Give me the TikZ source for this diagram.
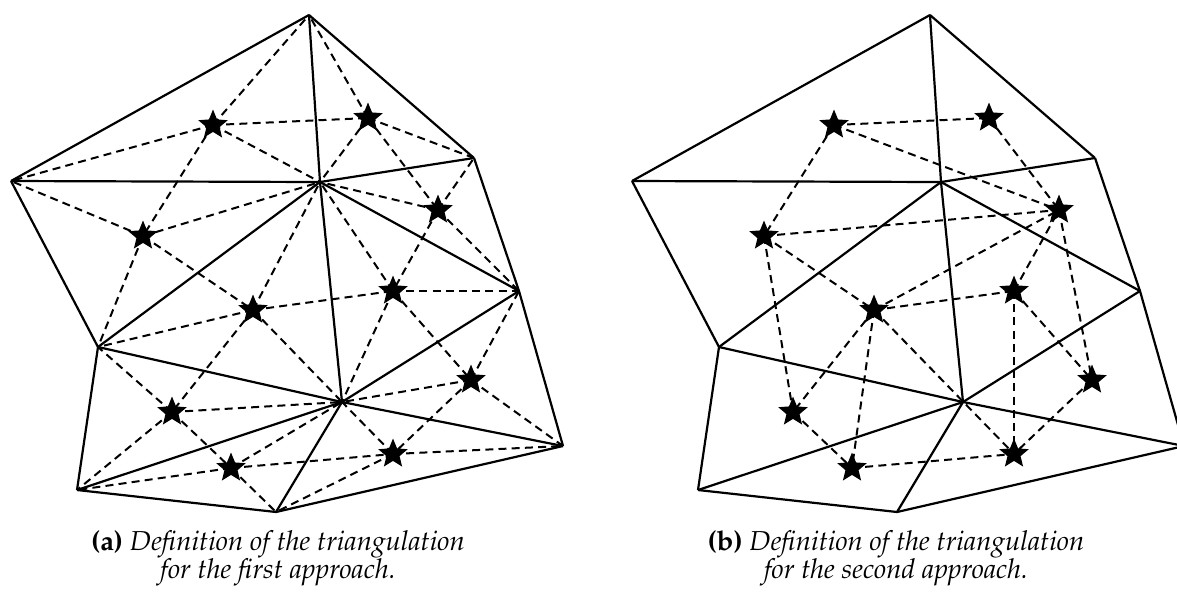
\documentclass[tikz,border=0pt]{standalone}
\usepackage[T1]{fontenc}
\usepackage{mathpazo}
\usetikzlibrary{shapes.geometric}
\begin{document}
\begin{tikzpicture}[x=0.5pt,y=-0.5pt,
  edge/.style={line width=1.1pt,line join=round},
  dual/.style={line width=1pt,dash pattern=on 4pt off 2.6pt},
  starmark/.style={star,star points=5,star point ratio=2.25,fill=black,draw=none,inner sep=0pt,minimum size=15.5pt},
  capt/.style={inner sep=0pt}]
\useasboundingbox (0,0) rectangle (1177,591);
\clip (0,0) rectangle (1177,591);
% vertices and star centres of both panels
\foreach \p/\dx in {L/0,R/621}{
  \coordinate (\p A) at (309+\dx,15);
  \coordinate (\p B) at (11+\dx,181);
  \coordinate (\p C) at (320+\dx,182);
  \coordinate (\p D) at (474+\dx,158);
  \coordinate (\p E) at (519+\dx,291);
  \coordinate (\p F) at (98+\dx,347);
  \coordinate (\p G) at (342+\dx,402);
  \coordinate (\p H) at (563+\dx,446);
  \coordinate (\p I) at (77+\dx,490);
  \coordinate (\p J) at (276+\dx,512);
  \coordinate (\p S1) at (213+\dx,125);
  \coordinate (\p S2) at (368+\dx,118);
  \coordinate (\p S3) at (438+\dx,210);
  \coordinate (\p S4) at (143+\dx,236);
  \coordinate (\p S5) at (253+\dx,310);
  \coordinate (\p S6) at (393+\dx,291);
  \coordinate (\p S7) at (471+\dx,380);
  \coordinate (\p S8) at (172+\dx,412);
  \coordinate (\p S9) at (231+\dx,468);
  \coordinate (\p S10) at (393+\dx,454);
}
% solid triangulation, both panels
\foreach \p in {L,R}{
  \foreach \u/\v in {A/B,A/D,A/C,B/C,C/D,D/E,C/E,B/F,C/F,C/G,F/G,G/E,E/H,G/H,F/I,I/G,I/J,J/G,J/H}
    \draw[edge] (\p\u) -- (\p\v);
}
% left panel: star to triangle vertices
\foreach \s/\a/\b/\c in {S1/A/B/C,S2/A/C/D,S3/C/D/E,S4/B/C/F,S5/C/F/G,S6/C/G/E,S7/G/E/H,S8/F/G/I,S9/I/G/J,S10/G/J/H}{
  \draw[dual] (L\s) -- (L\a);
  \draw[dual] (L\s) -- (L\b);
  \draw[dual] (L\s) -- (L\c);
}
% left panel: dual edges
\foreach \u/\v in {S1/S2,S1/S4,S2/S3,S3/S6,S4/S5,S5/S6,S5/S8,S6/S7,S7/S10,S8/S9,S9/S10}
  \draw[dual] (L\u) -- (L\v);
% right panel: star graph
\foreach \u/\v in {S1/S2,S1/S3,S1/S4,S2/S3,S4/S3,S4/S5,S4/S8,S5/S3,S5/S6,S5/S8,S5/S9,S5/S10,S6/S3,S6/S7,S6/S10,S3/S7,S7/S10,S8/S9,S9/S10}
  \draw[dual] (R\u) -- (R\v);
% stars
\foreach \p in {L,R}{
  \foreach \s in {S1,S2,S3,S4,S5,S6,S7,S8,S9,S10}
    \node[starmark] (\p\s star) at (\p\s) {};
}
% captions
\node[capt] (capa) at (278,558) {\scalebox{1.37}{\begin{tabular}{@{}c@{}}\textbf{(a)} \textit{Definition of the triangulation}\\[-1.5pt]\textit{for the first approach.}\end{tabular}}};
\node[capt] (capb) at (896,558) {\scalebox{1.37}{\begin{tabular}{@{}c@{}}\textbf{(b)} \textit{Definition of the triangulation}\\[-1.5pt]\textit{for the second approach.}\end{tabular}}};
\end{tikzpicture}
\end{document}
